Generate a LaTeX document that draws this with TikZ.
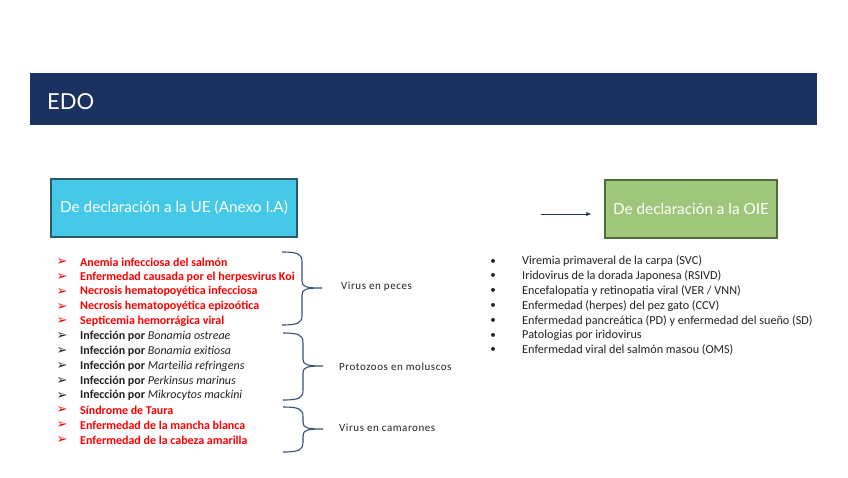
\documentclass[tikz,border=0pt]{standalone}
\usepackage{fontspec}
\setmainfont{Carlito}
\newfontfamily\boxfont{Lato}
\newfontfamily\symfont{DejaVu Sans}
\newfontfamily\labfont[LetterSpace=5]{Carlito}
\usetikzlibrary{arrows.meta}
\definecolor{navy}{HTML}{1B3160}
\definecolor{cyanbox}{HTML}{45C9E6}
\definecolor{cyanedge}{HTML}{2E5B6A}
\definecolor{greenbox}{HTML}{9FC67A}
\definecolor{greenedge}{HTML}{4F6D36}
\definecolor{bracecol}{HTML}{3A4E78}
\definecolor{txtdark}{HTML}{222222}
\newcommand{\grpbrace}[4]{%
\draw[bracestyle] (#1,#2) .. controls (#1+16,#2) and (#1+20,#2+2) .. (#1+20,#2+10)
 -- (#1+20,#3-7) .. controls (#1+20,#3-1) and (#1+24,#3) .. (#1+40,#3)
 .. controls (#1+24,#3) and (#1+20,#3+1) .. (#1+20,#3+7)
 -- (#1+20,#4-10) .. controls (#1+20,#4-2) and (#1+16,#4) .. (#1,#4);}
\tikzset{
  bracestyle/.style={draw=bracecol, line width=1.1pt},
  hdrbox/.style={minimum height=58pt, text=white, font=\boxfont\fontsize{15.3}{18}\selectfont, line width=1.4pt, inner sep=0pt},
  litem/.style={anchor=west, font=\bfseries\fontsize{12}{14}\selectfont, inner sep=0pt},
  lbul/.style={anchor=center, font=\symfont\fontsize{13}{14}\selectfont, inner sep=0pt},
  ritem/.style={anchor=west, font=\fontsize{12.2}{14}\selectfont, text=txtdark, inner sep=0pt},
  rbul/.style={anchor=center, font=\fontsize{11}{12}\selectfont, text=txtdark, inner sep=0pt},
  grplab/.style={anchor=west, font=\labfont\fontsize{11}{13}\selectfont, text=txtdark, inner sep=0pt},
  redtxt/.style={text=red},
  blktxt/.style={text=txtdark}
}
\begin{document}
\begin{tikzpicture}[x=1pt,y=-1pt]
\useasboundingbox (0,0) rectangle (848,477);
\fill[white] (0,0) rectangle (848,477);
% banner
\fill[navy] (30,73) rectangle (817,125);
\node[anchor=west, text=white, font=\boxfont\fontsize{22}{26}\selectfont, inner sep=0pt] (edo) at (47,102) {EDO};
% header boxes
\node[hdrbox, draw=cyanedge, fill=cyanbox, minimum width=246pt] (ue) at (174,208) {De declaración a la UE (Anexo I.A)};
\node[hdrbox, draw=greenedge, fill=greenbox, minimum width=172pt] (oie) at (691,209) {De declaración a la OIE};
\coordinate (arrstart) at (541,214);
\draw[navy, line width=1pt, -{Latex[length=5pt,width=4.5pt]}, shorten >=13pt] (arrstart) -- (arrstart -| oie.west);
% left list
\foreach \t/\s [count=\i from 0] in {
 {Anemia infecciosa del salmón}/redtxt,
 {Enfermedad causada por el herpesvirus Koi}/redtxt,
 {Necrosis hematopoyética infecciosa}/redtxt,
 {Necrosis hematopoyética epizoótica}/redtxt,
 {Septicemia hemorrágica viral}/redtxt,
 {Infección por \textmd{\itshape Bonamia ostreae}}/blktxt,
 {Infección por \textmd{\itshape Bonamia exitiosa}}/blktxt,
 {Infección por \textmd{\itshape Marteilia refringens}}/blktxt,
 {Infección por \textmd{\itshape Perkinsus marinus}}/blktxt,
 {Infección por \textmd{\itshape Mikrocytos mackini}}/blktxt,
 {Síndrome de Taura}/redtxt,
 {Enfermedad de la mancha blanca}/redtxt,
 {Enfermedad de la cabeza amarilla}/redtxt}{
  \node[lbul, \s] (lb\i) at (62,262+14.85*\i) {➢};
  \node[litem, \s] (li\i) at (80,262+14.85*\i) {\t};
}
% braces
\grpbrace{282}{252}{288}{325}
\grpbrace{283}{333}{366}{400}
\grpbrace{283}{407}{429}{452}
\node[grplab] (g1) at (341,287) {Virus en peces};
\node[grplab] (g2) at (339,367) {Protozoos en moluscos};
\node[grplab] (g3) at (339,428) {Virus en camarones};
% right list
\foreach \t [count=\i from 0] in {
 {Viremia primaveral de la carpa (SVC)},
 {Iridovirus de la dorada Japonesa (RSIVD)},
 {Encefalopatia y retinopatia viral (VER / VNN)},
 {Enfermedad (herpes) del pez gato (CCV)},
 {Enfermedad pancreática (PD) y enfermedad del sueño (SD)},
 {Patologias por iridovirus},
 {Enfermedad viral del salmón masou (OMS)}}{
  \node[rbul] (rb\i) at (493,261.5+14.8*\i) {•};
  \node[ritem] (ri\i) at (522,261.5+14.8*\i) {\t};
}
\end{tikzpicture}
\end{document}
